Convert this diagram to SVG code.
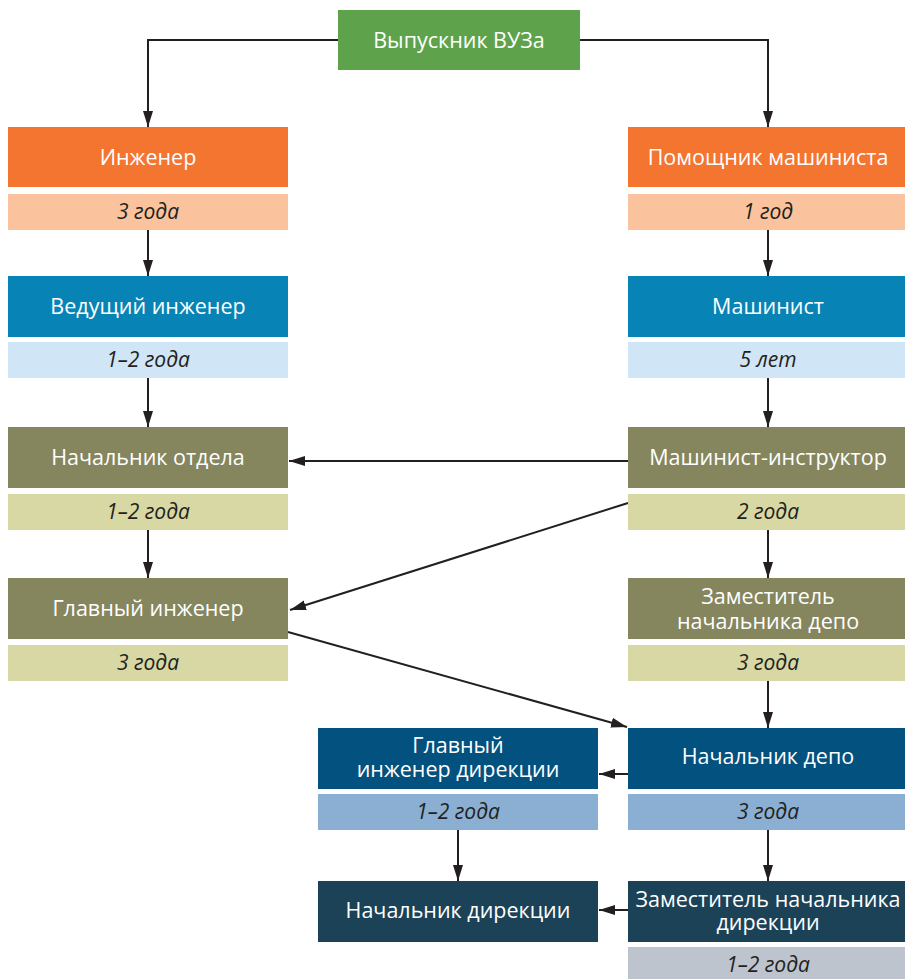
<svg xmlns="http://www.w3.org/2000/svg" width="905" height="979" viewBox="0 0 905 979">
<defs>
<marker id="ah" viewBox="0 0 16 10" refX="16" refY="5" markerWidth="16" markerHeight="10" markerUnits="userSpaceOnUse" orient="auto">
<path d="M0,0 L16,5 L0,10 Z" fill="#231f20"/>
</marker>
</defs>
<style>
.t{font-family:"Open Sans","Noto Sans","Liberation Sans",sans-serif;font-size:21.5px;fill:#ffffff;text-anchor:middle}
.d{font-family:"Open Sans","Noto Sans","Liberation Sans",sans-serif;font-size:21px;font-style:italic;fill:#231f20;text-anchor:middle}
.c{fill:none;stroke:#231f20;stroke-width:2}
</style>
<rect width="905" height="979" fill="#ffffff"/>
<g id="connectors">
<path class="c" d="M338,40 H148 V127" marker-end="url(#ah)"/>
<path class="c" d="M580,40 H768 V127" marker-end="url(#ah)"/>
<path class="c" d="M148,230 V276" marker-end="url(#ah)"/>
<path class="c" d="M768,230 V276" marker-end="url(#ah)"/>
<path class="c" d="M148,378 V427" marker-end="url(#ah)"/>
<path class="c" d="M768,378 V427" marker-end="url(#ah)"/>
<path class="c" d="M148,530 V578" marker-end="url(#ah)"/>
<path class="c" d="M768,530 V578" marker-end="url(#ah)"/>
<path class="c" d="M768,681 V728" marker-end="url(#ah)"/>
<path class="c" d="M768,830 V881" marker-end="url(#ah)"/>
<path class="c" d="M458,830 V881" marker-end="url(#ah)"/>
<path class="c" d="M628,461 H289" marker-end="url(#ah)"/>
<path class="c" d="M628,503 L290,610" marker-end="url(#ah)"/>
<path class="c" d="M288,632 L627,727" marker-end="url(#ah)"/>
<path class="c" d="M628,774 H599" marker-end="url(#ah)"/>
<path class="c" d="M628,910 H599" marker-end="url(#ah)"/>
</g>
<g id="vuz">
<rect x="338" y="10" width="242" height="60" fill="#5ea34c"/>
<text class="t" x="459" y="48">Выпускник ВУЗа</text>
</g>
<g id="inzhener">
<rect x="8" y="127" width="280" height="60" fill="#f47530"/>
<text class="t" x="148" y="165">Инженер</text>
<rect x="8" y="194" width="280" height="36" fill="#fac39d"/>
<text class="d" x="148" y="219">3 года</text>
</g>
<g id="pomoshnik">
<rect x="628" y="127" width="277" height="60" fill="#f47530"/>
<text class="t" x="768" y="165">Помощник машиниста</text>
<rect x="628" y="194" width="277" height="36" fill="#fac39d"/>
<text class="d" x="768" y="219">1 год</text>
</g>
<g id="vedushiy">
<rect x="8" y="276" width="280" height="61" fill="#0784b5"/>
<text class="t" x="148" y="314">Ведущий инженер</text>
<rect x="8" y="342" width="280" height="36" fill="#d0e5f5"/>
<text class="d" x="148" y="367">1–2 года</text>
</g>
<g id="mashinist">
<rect x="628" y="276" width="277" height="61" fill="#0784b5"/>
<text class="t" x="768" y="314">Машинист</text>
<rect x="628" y="342" width="277" height="36" fill="#d0e5f5"/>
<text class="d" x="768" y="367">5 лет</text>
</g>
<g id="nach-otdela">
<rect x="8" y="427" width="280" height="61" fill="#85865e"/>
<text class="t" x="148" y="465">Начальник отдела</text>
<rect x="8" y="494" width="280" height="36" fill="#d8d8a5"/>
<text class="d" x="148" y="519">1–2 года</text>
</g>
<g id="mashinist-instr">
<rect x="628" y="427" width="277" height="61" fill="#85865e"/>
<text class="t" x="768" y="465">Машинист-инструктор</text>
<rect x="628" y="494" width="277" height="36" fill="#d8d8a5"/>
<text class="d" x="768" y="519">2 года</text>
</g>
<g id="glavniy-inzh">
<rect x="8" y="578" width="280" height="61" fill="#85865e"/>
<text class="t" x="148" y="616">Главный инженер</text>
<rect x="8" y="645" width="280" height="36" fill="#d8d8a5"/>
<text class="d" x="148" y="670">3 года</text>
</g>
<g id="zam-depo">
<rect x="628" y="578" width="277" height="61" fill="#85865e"/>
<text class="t" x="768" y="604">Заместитель</text>
<text class="t" x="768" y="629">начальника депо</text>
<rect x="628" y="645" width="277" height="36" fill="#d8d8a5"/>
<text class="d" x="768" y="670">3 года</text>
</g>
<g id="nach-depo">
<rect x="628" y="728" width="277" height="61" fill="#03517e"/>
<text class="t" x="768" y="764">Начальник депо</text>
<rect x="628" y="794" width="277" height="36" fill="#8aafd3"/>
<text class="d" x="768" y="819">3 года</text>
</g>
<g id="glavniy-direkcii">
<rect x="318" y="728" width="280" height="61" fill="#03517e"/>
<text class="t" x="458" y="753">Главный</text>
<text class="t" x="458" y="777">инженер дирекции</text>
<rect x="318" y="794" width="280" height="36" fill="#8aafd3"/>
<text class="d" x="458" y="819">1–2 года</text>
</g>
<g id="zam-direkcii">
<rect x="628" y="881" width="277" height="61" fill="#1c4257"/>
<text class="t" x="768" y="907">Заместитель начальника</text>
<text class="t" x="768" y="930">дирекции</text>
<rect x="628" y="947" width="277" height="32" fill="#bdc4ce"/>
<text class="d" x="768" y="972">1–2 года</text>
</g>
<g id="nach-direkcii">
<rect x="318" y="881" width="280" height="61" fill="#1c4257"/>
<text class="t" x="458" y="918">Начальник дирекции</text>
</g>
</svg>
